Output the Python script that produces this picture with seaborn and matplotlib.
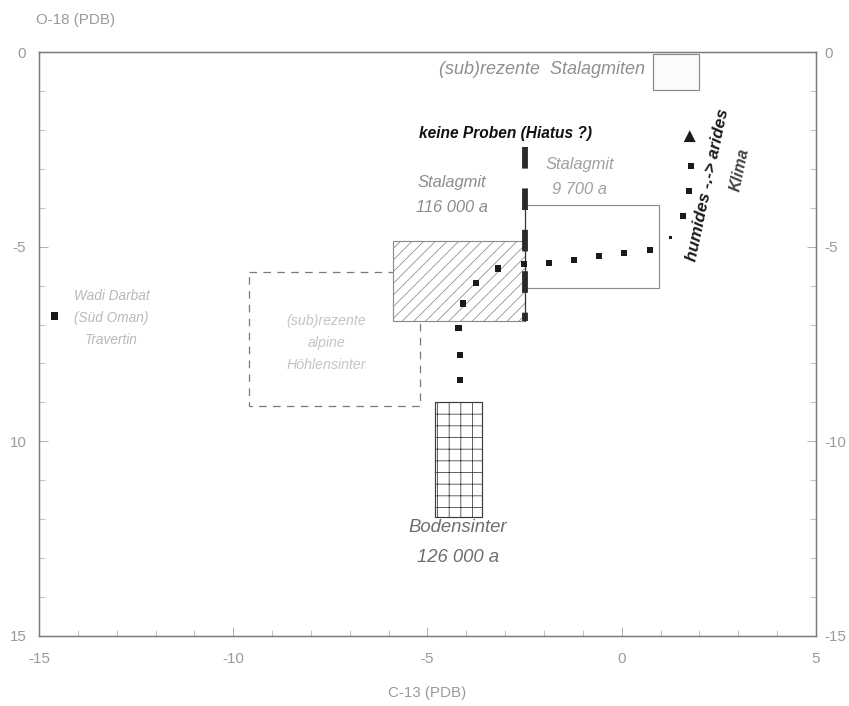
import matplotlib
matplotlib.use("Agg")
import pandas as pd
import matplotlib.pyplot as plt
from matplotlib.patches import Rectangle
from matplotlib.ticker import MultipleLocator
import seaborn as sns

sns.set_style("white")
plt.rcParams['font.family'] = ['Liberation Sans', 'DejaVu Sans']
plt.rcParams['hatch.linewidth'] = 0.8
plt.rcParams['axes.unicode_minus'] = False

# trend of the stalagmite samples (C-13, O-18), from bottom to top
trend_c13 = [-4.17, -4.17, -4.2, -4.08, -3.74, -3.18, -2.52, -1.88, -1.23, -0.59, 0.06, 0.72, 1.26, 1.58, 1.73, 1.78]
trend_o18 = [8.43, 7.78, 7.09, 6.46, 5.93, 5.56, 5.45, 5.41, 5.34, 5.24, 5.17, 5.09, 4.76, 4.21, 3.56, 2.92]
trend_size = [40, 40, 40, 40, 40, 40, 40, 40, 40, 40, 40, 40, 14, 40, 40, 40]

arrow_c13 = [1.75]
arrow_o18 = [2.16]

wadi_c13 = [-14.6]
wadi_o18 = [6.78]

# hiatus (no samples) along the stalagmite line
hiatus_c13 = [-2.5, -2.5]
hiatus_o18 = [2.45, 6.9]

# boxes: name, C-13 range, O-18 range
box_names = ["sub_stalagmiten", "stalagmit_9700", "hoehlensinter", "stalagmit_116000", "bodensinter"]
box_c13_min = [0.8, -2.5, -9.6, -5.9, -4.8]
box_c13_max = [2.0, 0.95, -5.2, -2.5, -3.6]
box_o18_min = [0.05, 3.92, 5.65, 4.85, 9.0]
box_o18_max = [0.98, 6.05, 9.1, 6.9, 11.95]

left_ticks = [0, 5, 10, 15]
left_labels = ["0", "-5", "10", "15"]
right_labels = ["0", "-5", "-10", "-15"]
x_ticks = [-15, -10, -5, 0, 5]

box_style = {
  "sub_stalagmiten": dict(edgecolor="#8a8a8a", facecolor="#fbfbfb", lw=1.2, zorder=2),
  "stalagmit_9700": dict(edgecolor="#8a8a8a", facecolor="none", lw=1.2, zorder=2),
  "hoehlensinter": dict(edgecolor="#7a7a7a", facecolor="none", lw=1.3, ls=(0, (6, 5)), zorder=1),
  "stalagmit_116000": dict(edgecolor="#8c8c8c", facecolor="white", lw=1.2, hatch="//", zorder=2),
  "bodensinter": dict(edgecolor="#3a3a3a", facecolor="white", lw=1.2, hatch="+", zorder=2),
}

df_trend = pd.DataFrame({"c13": trend_c13, "o18": trend_o18, "size": trend_size})

fig = plt.figure(figsize=(849 / 70, 706 / 70), dpi=70)
ax = fig.add_axes([0.0459, 0.0992, 0.9152, 0.8271])

for i, name in enumerate(box_names):
  ax.add_patch(Rectangle((box_c13_min[i], box_o18_min[i]), box_c13_max[i] - box_c13_min[i],
                         box_o18_max[i] - box_o18_min[i], **box_style[name]))

# thin stalagmite axis line and the thick dashed hiatus line
ax.plot([hiatus_c13[0], hiatus_c13[1]], [box_o18_min[1], hiatus_o18[1]], color="#333333", lw=1.2, zorder=3)
ax.plot(hiatus_c13, hiatus_o18, color="#2a2a2a", lw=6, dashes=(3.7, 3.4), solid_capstyle="butt", zorder=4)

sns.scatterplot(data=df_trend, x="c13", y="o18", size="size", sizes=(14, 40), marker="s",
                color="#1a1a1a", edgecolor="none", legend=False, ax=ax, zorder=5)
sns.scatterplot(x=arrow_c13, y=arrow_o18, marker="^", s=150, color="#1a1a1a", edgecolor="none", ax=ax, zorder=5)
sns.scatterplot(x=wadi_c13, y=wadi_o18, marker="s", s=55, color="#1a1a1a", edgecolor="none", ax=ax, zorder=5)

# annotations
ax.text(0.6, 0.46, "(sub)rezente  Stalagmiten", ha="right", va="center", fontsize=18.5, style="italic", color="#8f8f8f")
ax.text(-3.0, 2.08, "keine Proben (Hiatus ?)", ha="center", va="center", fontsize=16, style="italic",
        weight="bold", color="#111111")
ax.text(-1.08, 3.2, "Stalagmit\n9 700 a", ha="center", va="center", fontsize=17, style="italic",
        color="#a0a0a0", linespacing=1.85)
ax.text(-4.37, 3.67, "Stalagmit\n116 000 a", ha="center", va="center", fontsize=17, style="italic",
        color="#8c8c8c", linespacing=1.85)
ax.text(-7.6, 7.47, "(sub)rezente\nalpine\nHöhlensinter", ha="center", va="center", fontsize=14.5, style="italic",
        color="#c4c4c4", linespacing=1.75)
ax.text(-4.22, 12.6, "Bodensinter\n126 000 a", ha="center", va="center", fontsize=19, style="italic",
        color="#6e6e6e", linespacing=1.95)
ax.text(-13.13, 6.83, "Wadi Darbat\n(Süd Oman)\nTravertin", ha="center", va="center", fontsize=14, style="italic",
        color="#b8b8b8", linespacing=1.7)
ax.text(2.21, 3.42, "humides -.-> arides", ha="center", va="center", rotation=78, fontsize=17.5, style="italic",
        weight="bold", color="#1a1a1a")
ax.text(3.04, 3.03, "Klima", ha="center", va="center", rotation=78, fontsize=16.5, style="italic",
        weight="bold", color="#444444")

# axes
ax.set_xlim(-15, 5)
ax.set_ylim(15, 0)
ax.set_xticks(x_ticks)
ax.set_yticks(left_ticks)
ax.set_yticklabels(left_labels)
ax.xaxis.set_minor_locator(MultipleLocator(1))
ax.yaxis.set_minor_locator(MultipleLocator(1))
ax.tick_params(axis="both", which="both", direction="in", colors="#9a9a9a", labelcolor="#9a9a9a", labelsize=15.5)
ax.tick_params(axis="x", which="major", length=9, pad=17)
ax.tick_params(axis="x", which="minor", length=6)
ax.tick_params(axis="y", which="major", length=9, pad=13, left=True)
ax.tick_params(axis="y", which="minor", length=6, left=True)
ax.tick_params(axis="x", which="both", bottom=True, top=False)
ax.set_xlabel("C-13 (PDB)", fontsize=15.5, color="#9a9a9a", labelpad=20)
ax.set_ylabel("")
ax.text(-14.05, -0.82, "O-18 (PDB)", ha="center", va="center", fontsize=15.5, color="#9a9a9a")

ax2 = ax.twinx()
ax2.set_ylim(15, 0)
ax2.set_yticks(left_ticks)
ax2.set_yticklabels(right_labels)
ax2.yaxis.set_minor_locator(MultipleLocator(1))
ax2.tick_params(axis="y", which="both", direction="in", colors="#9a9a9a", labelcolor="#9a9a9a", labelsize=15.5, right=True)
ax2.tick_params(axis="y", which="major", length=9, pad=9)
ax2.tick_params(axis="y", which="minor", length=6)

for a in (ax, ax2):
  for s in a.spines.values():
    s.set_color("#7a7a7a")
    s.set_linewidth(1.3)

fig.savefig("out.png", dpi=70)
